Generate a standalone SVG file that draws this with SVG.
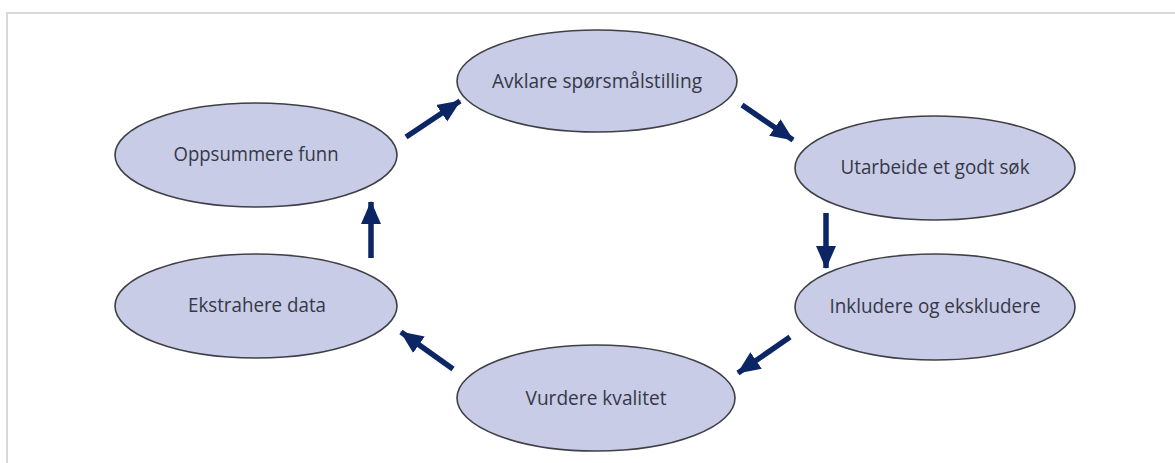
<svg xmlns="http://www.w3.org/2000/svg" width="1175" height="463" viewBox="0 0 1175 463">
<defs>
<style>
.node ellipse{fill:#c8cce6;stroke:#3f3f46;stroke-width:1.6}
.node text{font-family:"Open Sans","Noto Sans",sans-serif;font-size:20px;font-weight:500;fill:#363848;text-anchor:middle}
.conn line{stroke:#0b2565;stroke-width:5.5}
</style>
<marker id="ah" markerUnits="userSpaceOnUse" markerWidth="24" markerHeight="22" viewBox="0 0 24 22" refX="22" refY="11" orient="auto">
<path d="M0,1 L23,11 L0,21 Z" fill="#0b2565"/>
</marker>
</defs>
<rect width="1175" height="463" fill="#ffffff"/>
<path d="M7,463 V13 H1175" fill="none" stroke="#d9d9d9" stroke-width="2"/>
<g id="n-avklare" class="node"><ellipse cx="597" cy="81" rx="140" ry="51"/><text x="597" y="88" textLength="210" lengthAdjust="spacingAndGlyphs">Avklare spørsmålstilling</text></g>
<g id="n-utarbeide" class="node"><ellipse cx="935" cy="168" rx="140" ry="52"/><text x="935" y="174" textLength="189" lengthAdjust="spacingAndGlyphs">Utarbeide et godt søk</text></g>
<g id="n-inkludere" class="node"><ellipse cx="935" cy="307" rx="140" ry="53"/><text x="935" y="313" textLength="211" lengthAdjust="spacingAndGlyphs">Inkludere og ekskludere</text></g>
<g id="n-vurdere" class="node"><ellipse cx="596" cy="398" rx="139" ry="53"/><text x="596" y="405" textLength="141" lengthAdjust="spacingAndGlyphs">Vurdere kvalitet</text></g>
<g id="n-ekstrahere" class="node"><ellipse cx="256" cy="306" rx="141" ry="52"/><text x="257" y="312" textLength="138" lengthAdjust="spacingAndGlyphs">Ekstrahere data</text></g>
<g id="n-oppsummere" class="node"><ellipse cx="256" cy="155" rx="141" ry="52"/><text x="256" y="161" textLength="165" lengthAdjust="spacingAndGlyphs">Oppsummere funn</text></g>
<g id="connectors" class="conn">
<line x1="406" y1="137" x2="460" y2="101" marker-end="url(#ah)"/>
<line x1="742" y1="105" x2="793" y2="140" marker-end="url(#ah)"/>
<line x1="826" y1="213" x2="826" y2="268" marker-end="url(#ah)"/>
<line x1="790" y1="337" x2="738" y2="373" marker-end="url(#ah)"/>
<line x1="453" y1="369" x2="401" y2="332" marker-end="url(#ah)"/>
<line x1="371" y1="258" x2="371" y2="202" marker-end="url(#ah)"/>
</g>
</svg>
